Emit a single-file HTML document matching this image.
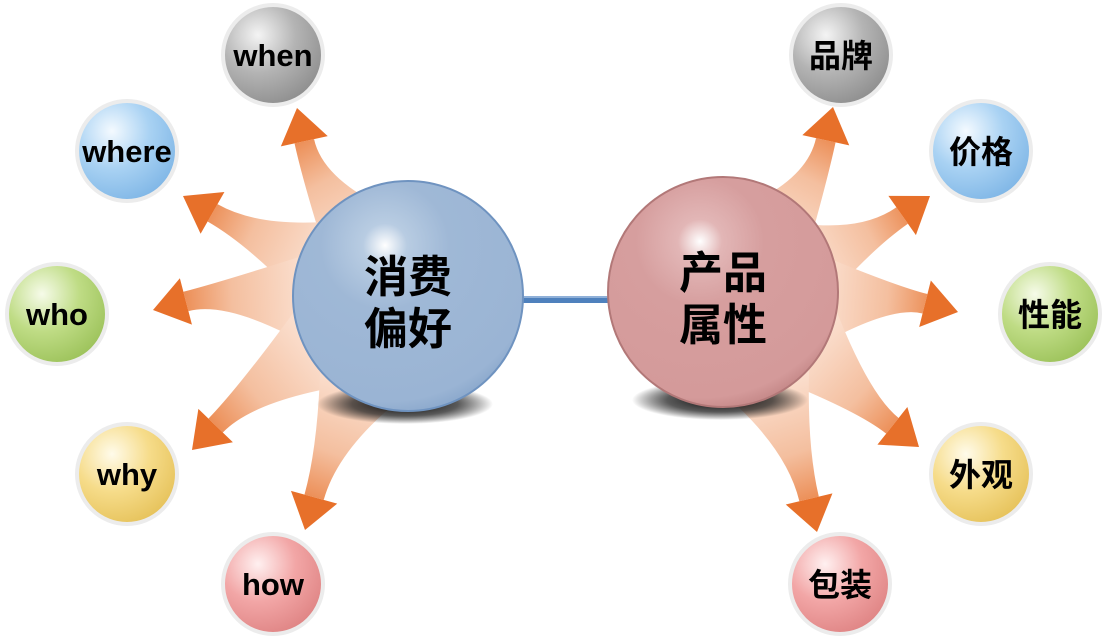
<!DOCTYPE html>
<html><head><meta charset="utf-8"><style>
html,body{margin:0;padding:0;background:#fff;width:1106px;height:638px;overflow:hidden}
svg{display:block}
text{font-family:"Liberation Sans","Noto Sans CJK SC",sans-serif;font-weight:bold;fill:#000;text-anchor:middle}
</style></head><body>
<svg id="s" width="1106" height="638" viewBox="0 0 1106 638">
<defs>
<radialGradient id="gBlueBig" cx="0.4" cy="0.28" r="0.8">
<stop offset="0" stop-color="#ffffff"/><stop offset="0.12" stop-color="#b8cce2"/><stop offset="0.35" stop-color="#9fb8d6"/><stop offset="0.85" stop-color="#9ab4d4"/><stop offset="1" stop-color="#7f9fc6"/></radialGradient>
<radialGradient id="gRedBig" cx="0.4" cy="0.28" r="0.8">
<stop offset="0" stop-color="#ffffff"/><stop offset="0.12" stop-color="#e2b6b6"/><stop offset="0.35" stop-color="#d69e9e"/><stop offset="0.85" stop-color="#d49a9a"/><stop offset="1" stop-color="#b87979"/></radialGradient>
<radialGradient id="gGray" cx="0.35" cy="0.3" r="0.75"><stop offset="0" stop-color="#f4f4f4"/><stop offset="0.5" stop-color="#b4b4b4"/><stop offset="1" stop-color="#8e8e8e"/></radialGradient>
<radialGradient id="gBlue" cx="0.35" cy="0.3" r="0.75"><stop offset="0" stop-color="#f4faff"/><stop offset="0.5" stop-color="#a9d2f3"/><stop offset="1" stop-color="#7fb6e6"/></radialGradient>
<radialGradient id="gGreen" cx="0.35" cy="0.3" r="0.75"><stop offset="0" stop-color="#f6fbe9"/><stop offset="0.5" stop-color="#bfdc85"/><stop offset="1" stop-color="#9cc25a"/></radialGradient>
<radialGradient id="gYellow" cx="0.35" cy="0.3" r="0.75"><stop offset="0" stop-color="#fffbea"/><stop offset="0.5" stop-color="#f6dc8a"/><stop offset="1" stop-color="#e6c25a"/></radialGradient>
<radialGradient id="gPink" cx="0.35" cy="0.3" r="0.75"><stop offset="0" stop-color="#fff0f0"/><stop offset="0.5" stop-color="#f2a6a6"/><stop offset="1" stop-color="#df8484"/></radialGradient>
<radialGradient id="gShadow" cx="0.5" cy="0.5" r="0.5"><stop offset="0" stop-color="#000" stop-opacity="1"/><stop offset="0.6" stop-color="#222" stop-opacity="0.75"/><stop offset="1" stop-color="#000" stop-opacity="0"/></radialGradient>
</defs>
<g id="arrows"></g>
<ellipse cx="405" cy="404" rx="88" ry="20" fill="url(#gShadow)"/>
<ellipse cx="720" cy="400" rx="88" ry="20" fill="url(#gShadow)"/>
<rect x="518" y="296" width="94" height="7" fill="#4f81bd"/>
<rect x="518" y="296" width="94" height="2" fill="#8fb0d8"/>
<circle cx="408" cy="296" r="115" fill="url(#gBlueBig)" stroke="#6f93c0" stroke-width="2"/>
<circle cx="723" cy="292" r="115" fill="url(#gRedBig)" stroke="#b27878" stroke-width="2"/>
<text x="408" y="292" font-size="44">消费</text>
<text x="408" y="344" font-size="44">偏好</text>
<text x="723" y="288" font-size="44">产品</text>
<text x="723" y="340" font-size="44">属性</text>
<g stroke="#ececec" stroke-width="4">
<circle cx="273" cy="55" r="50" fill="url(#gGray)"/>
<circle cx="127" cy="151" r="50" fill="url(#gBlue)"/>
<circle cx="57" cy="314" r="50" fill="url(#gGreen)"/>
<circle cx="127" cy="474" r="50" fill="url(#gYellow)"/>
<circle cx="273" cy="584" r="50" fill="url(#gPink)"/>
<circle cx="841" cy="55" r="50" fill="url(#gGray)"/>
<circle cx="981" cy="151" r="50" fill="url(#gBlue)"/>
<circle cx="1050" cy="314" r="50" fill="url(#gGreen)"/>
<circle cx="981" cy="474" r="50" fill="url(#gYellow)"/>
<circle cx="840" cy="584" r="50" fill="url(#gPink)"/>
</g>
<text x="273" y="66" font-size="31">when</text>
<text x="127" y="162" font-size="31">where</text>
<text x="57" y="325" font-size="31">who</text>
<text x="127" y="485" font-size="31">why</text>
<text x="273" y="595" font-size="31">how</text>
<text x="841" y="67" font-size="32">品牌</text>
<text x="981" y="163" font-size="32">价格</text>
<text x="1050" y="326" font-size="32">性能</text>
<text x="981" y="486" font-size="32">外观</text>
<text x="840" y="596" font-size="32">包装</text>
</svg>
<script>
var A=[
[[380,260],[315,190],[297,108]],
[[340,270],[260,240],[183,196]],
[[330,300],[230,290],[153,310]],
[[340,335],[250,390],[192,450]],
[[370,360],[330,440],[305,530]],
[[755,255],[815,190],[833,107]],
[[790,270],[860,245],[930,196]],
[[800,300],[890,295],[958,312]],
[[790,330],[860,400],[919,447]],
[[760,360],[795,440],[817,532]]
];
var ns="http://www.w3.org/2000/svg",g=document.getElementById("arrows"),defs=document.querySelector("defs");
A.forEach(function(a,i){
 var S=a[0],C=a[1],T=a[2];
 var dx=T[0]-C[0],dy=T[1]-C[1],L=Math.hypot(dx,dy);dx/=L;dy/=L;
 var nx=-dy,ny=dx,hl=34,hw=24;
 var B=[T[0]-dx*hl,T[1]-dy*hl];
 var lg=document.createElementNS(ns,"linearGradient");
 lg.setAttribute("id","ag"+i);lg.setAttribute("gradientUnits","userSpaceOnUse");
 lg.setAttribute("x1",S[0]);lg.setAttribute("y1",S[1]);lg.setAttribute("x2",T[0]);lg.setAttribute("y2",T[1]);
 lg.innerHTML='<stop offset="0" stop-color="#fdeadf"/><stop offset="0.55" stop-color="#f4bf9f"/><stop offset="1" stop-color="#e76f28"/>';
 defs.appendChild(lg);
 var sw=55,ew=10;
 var sdx=C[0]-S[0],sdy=C[1]-S[1],sl=Math.hypot(sdx,sdy);var snx=-sdy/sl,sny=sdx/sl;
 var d="M"+(S[0]+snx*sw)+","+(S[1]+sny*sw)+" Q"+(C[0]+nx*ew)+","+(C[1]+ny*ew)+" "+(B[0]+nx*ew)+","+(B[1]+ny*ew)+
 " L"+(B[0]-nx*ew)+","+(B[1]-ny*ew)+" Q"+(C[0]-nx*ew)+","+(C[1]-ny*ew)+" "+(S[0]-snx*sw)+","+(S[1]-sny*sw)+"Z";
 var p=document.createElementNS(ns,"path");p.setAttribute("d",d);p.setAttribute("fill","url(#ag"+i+")");g.appendChild(p);
 var h=document.createElementNS(ns,"polygon");
 h.setAttribute("points",T[0]+","+T[1]+" "+(B[0]+nx*hw)+","+(B[1]+ny*hw)+" "+(B[0]-nx*hw)+","+(B[1]-ny*hw));
 h.setAttribute("fill","#e7702a");g.appendChild(h);
});
</script>
</body></html>
